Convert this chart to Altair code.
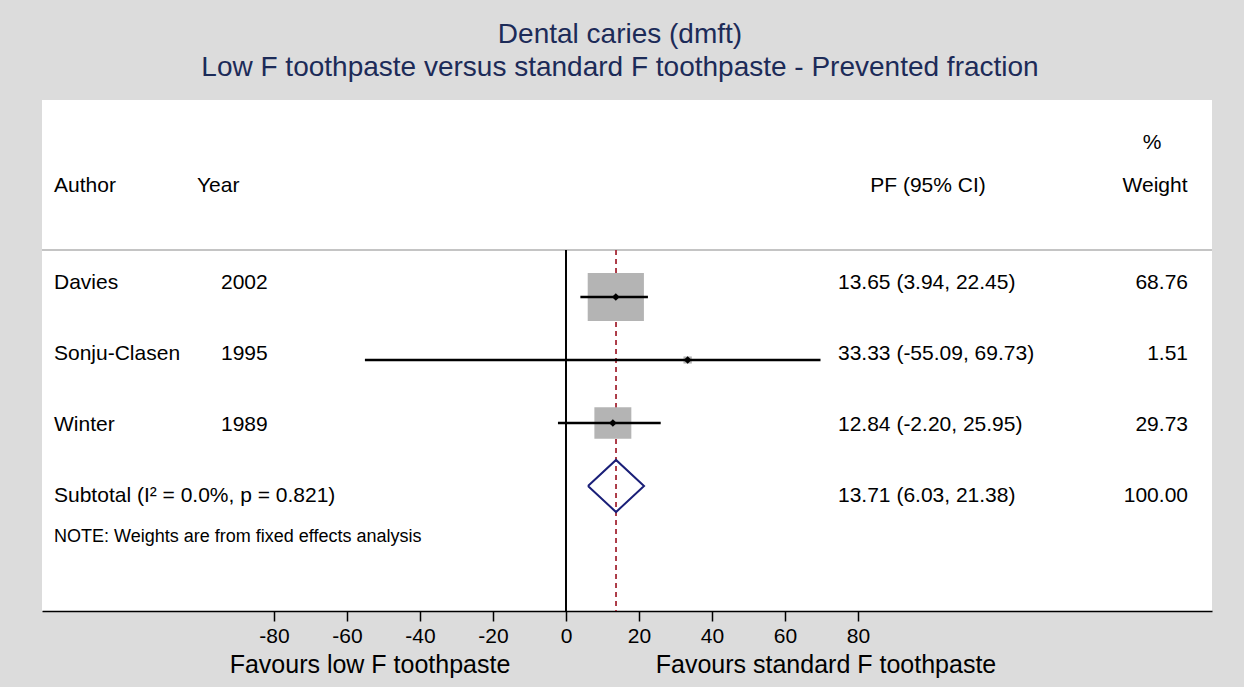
import altair as alt
import pandas as pd

# ---------------- data ----------------
authors = ["Davies", "Sonju-Clasen", "Winter"]
years = ["2002", "1995", "1989"]
pf = [13.65, 33.33, 12.84]
lci = [3.94, -55.09, -2.20]
uci = [22.45, 69.73, 25.95]
weights = [68.76, 1.51, 29.73]

pooled_pf = 13.71
pooled_lci = 6.03
pooled_uci = 21.38
pooled_weight = 100.00
subtotal_label = "Subtotal  (I\u00b2 = 0.0%, p = 0.821)"
note_label = "NOTE: Weights are from fixed effects analysis"

title_lines = ["Dental caries (dmft)",
               "Low F toothpaste versus standard F toothpaste - Prevented fraction"]
x_ticks = [-80, -60, -40, -20, 0, 20, 40, 60, 80]
favours_left = "Favours low F toothpaste"
favours_right = "Favours standard F toothpaste"

# ---------------- tables ----------------
rows = [1, 2, 3]
studies = pd.DataFrame({
    "author": authors, "year": years, "pf": pf, "lci": lci, "uci": uci,
    "weight": weights, "mrow": rows,
})

text_tbl = pd.DataFrame({
    "label": authors + [subtotal_label],
    "year": years + [""],
    "ci": [f"{p:.2f} ({l:.2f}, {u:.2f})" for p, l, u in zip(pf, lci, uci)]
          + [f"{pooled_pf:.2f} ({pooled_lci:.2f}, {pooled_uci:.2f})"],
    "w": [f"{w:.2f}" for w in weights] + [f"{pooled_weight:.2f}"],
    "trow": [1, 2, 3, 4],
})

half_h = 0.413  # diamond half height in row units
diamond = pd.DataFrame({
    "x": [pooled_lci, pooled_pf, pooled_uci, pooled_pf, pooled_lci],
    "y": [4, 4 - half_h, 4, 4 + half_h, 4],
    "o": [0, 1, 2, 3, 4],
})

FONT = "Liberation Sans"
W, H = 1170, 511

xscale = alt.Scale(domain=[-143.56, 176.99], nice=False, zero=False)
ymark = alt.Scale(domain=[1, 4], range=[197, 386], nice=False, zero=False)
ytext = alt.Scale(domain=[1, 4], range=[183, 396], nice=False, zero=False)

xaxis = alt.Axis(values=x_ticks, title=None, grid=False, domainColor="black",
                 domainWidth=1.5, tickColor="black", tickWidth=1.5, tickSize=10,
                 labelFont=FONT, labelFontSize=21, labelColor="black",
                 labelPadding=4, labelExpr="toString(datum.value)")

base_s = alt.Chart(studies)

# header separator
header_line = alt.Chart(studies).mark_rule(color="#c4c4c4", strokeWidth=2).encode(
    x=alt.value(0), x2=alt.value(W), y=alt.value(150))

zero_line = alt.Chart(studies).mark_rule(color="black", strokeWidth=1.5).encode(
    x=alt.datum(0, type="quantitative", scale=xscale, axis=xaxis),
    y=alt.value(150), y2=alt.value(H))

pooled_line = alt.Chart(studies).mark_rule(color="#a8323e", strokeWidth=1.2,
                                          strokeDash=[5, 4]).encode(
    x=alt.datum(pooled_pf, type="quantitative", scale=xscale, axis=xaxis),
    y=alt.value(150), y2=alt.value(H))

squares = base_s.mark_point(
    shape="M-1.08,-0.92L1.08,-0.92L1.08,0.92L-1.08,0.92Z",
    filled=True, color="#b4b4b4", opacity=1, strokeWidth=0).encode(
    x=alt.X("pf:Q", scale=xscale, axis=xaxis),
    y=alt.Y("mrow:Q", scale=ymark, axis=None),
    size=alt.Size("weight:Q", scale=alt.Scale(domain=[0, 100], range=[0, 3940]),
                  legend=None))

whiskers = base_s.mark_rule(color="black", strokeWidth=2.5).encode(
    x=alt.X("lci:Q", scale=xscale, axis=xaxis),
    x2="uci:Q",
    y=alt.Y("mrow:Q", scale=ymark, axis=None))

dots = base_s.mark_point(shape="diamond", filled=True, color="black",
                         opacity=1, size=60).encode(
    x=alt.X("pf:Q", scale=xscale, axis=xaxis),
    y=alt.Y("mrow:Q", scale=ymark, axis=None))

diamond_line = alt.Chart(diamond).mark_line(color="#1a1f78", strokeWidth=2).encode(
    x=alt.X("x:Q", scale=xscale, axis=xaxis),
    y=alt.Y("y:Q", scale=ymark, axis=None),
    order="o:Q")

# text columns
def col(field, xpx, align="left", size=21):
    return alt.Chart(text_tbl).mark_text(
        align=align, baseline="middle", font=FONT, fontSize=size, color="black"
    ).encode(
        x=alt.value(xpx),
        y=alt.Y("trow:Q", scale=ytext, axis=None),
        text=f"{field}:N")

author_col = col("label", 12)
year_col = col("year", 179)
ci_col = col("ci", 796)
w_col = col("w", 1146, align="right")

def fixed_text(txt, xpx, ypx, size=21, align="left", color="black"):
    return alt.Chart(pd.DataFrame({"t": [txt]})).mark_text(
        align=align, baseline="middle", font=FONT, fontSize=size, color=color
    ).encode(x=alt.value(xpx), y=alt.value(ypx), text="t:N")

headers = [
    fixed_text("Author", 12, 86),
    fixed_text("Year", 155, 86),
    fixed_text("PF (95% CI)", 886, 86, align="center"),
    fixed_text("%", 1110, 43, align="center"),
    fixed_text("Weight", 1113, 86, align="center"),
    fixed_text(note_label, 12, 437, size=18),
    fixed_text(title_lines[0], 578, -65, size=28, align="center", color="#1c2b58"),
    fixed_text(title_lines[1], 578, -32, size=28, align="center", color="#1c2b58"),
    fixed_text(favours_left, 328, 565, size=25, align="center"),
    fixed_text(favours_right, 784, 565, size=25, align="center"),
]

chart = alt.layer(
    header_line, pooled_line, zero_line, squares, whiskers, dots, diamond_line,
    author_col, year_col, ci_col, w_col, *headers
).resolve_scale(y="independent").properties(
    width=W, height=H,
    background="#dcdcdc",
    padding={"left": 42, "top": 100, "right": 32, "bottom": 76},
    autosize=alt.AutoSizeParams(type="none"),
).configure_view(fill="white", stroke="white", strokeWidth=0)

chart.save("out.html", embed_options={"renderer": "svg", "actions": False})
